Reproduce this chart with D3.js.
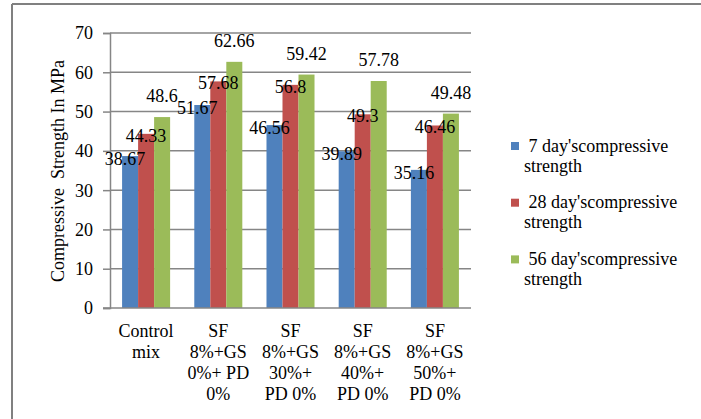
<!DOCTYPE html>
<html>
<head>
<meta charset="utf-8">
<script src="https://cdn.jsdelivr.net/npm/d3@7"></script>
<style>
  html, body { margin: 0; padding: 0; background: #fff; }
  svg { display: block; }
</style>
</head>
<body>
<svg id="chart" width="701" height="419"></svg>
<script>
// ---- data ----
const categories = ["Control mix", "SF 8%+GS 0%+ PD 0%", "SF 8%+GS 30%+ PD 0%", "SF 8%+GS 40%+ PD 0%", "SF 8%+GS 50%+ PD 0%"];
const categoryLines = [
  ["Control", "mix"],
  ["SF", "8%+GS", "0%+ PD", "0%"],
  ["SF", "8%+GS", "30%+", "PD 0%"],
  ["SF", "8%+GS", "40%+", "PD 0%"],
  ["SF", "8%+GS", "50%+", "PD 0%"]
];
const seriesNames = ["7 day'scompressive strength", "28 day'scompressive strength", "56 day'scompressive strength"];
const legendLines = [["7 day'scompressive", "strength"], ["28 day'scompressive", "strength"], ["56 day'scompressive", "strength"]];
const day7 = [38.67, 51.67, 46.56, 39.89, 35.16];
const day28 = [44.33, 57.68, 56.8, 49.3, 46.46];
const day56 = [48.6, 62.66, 59.42, 57.78, 49.48];
const yTicks = [0, 10, 20, 30, 40, 50, 60, 70];
const yTitle = "Compressive  Strength In MPa";

// ---- styles ----
const FONT = "Liberation Serif";
const colors = ["#4F81BD", "#C0504D", "#9BBB59"];
const labelDy = [9, 8, -15];   // label baseline offset from bar top, per series
const labelDx = [-5, 0, 0];
const gridColor = "#868686";

const seriesValues = [day7, day28, day56];
const svg = d3.select("#chart");

function styleText(sel) {
  return sel.style("font-family", FONT).style("font-size", "18px").attr("fill", "#000");
}

// outer frame (top and left edges)
svg.append("line").attr("x1", 12).attr("x2", 701).attr("y1", 4).attr("y2", 4)
  .attr("stroke", "#808080").attr("stroke-width", 2);
svg.append("line").attr("x1", 12).attr("x2", 12).attr("y1", 4).attr("y2", 419)
  .attr("stroke", "#808080").attr("stroke-width", 2);

const plot = { left: 110, right: 471, top: 33, bottom: 308 };

const x = d3.scaleBand().domain(categories).range([plot.left, plot.right]).padding(0);
const xSub = d3.scaleBand().domain(d3.range(seriesNames.length)).range([0, x.bandwidth()])
  .paddingInner(0).paddingOuter(0.755);
const y = d3.scaleLinear().domain([0, 70]).range([plot.bottom, plot.top]);

// gridlines
svg.append("g").selectAll("line").data(yTicks.filter(t => t > 0)).join("line")
  .attr("x1", plot.left).attr("x2", plot.right)
  .attr("y1", d => y(d)).attr("y2", d => y(d))
  .attr("stroke", gridColor).attr("stroke-width", 1.5);

// y axis
const yAxis = d3.axisLeft(y).tickValues(yTicks).tickSize(7).tickPadding(10).tickFormat(d3.format("d"));
const ya = svg.append("g").attr("transform", `translate(${plot.left},0)`).call(yAxis);
ya.attr("font-family", null).attr("font-size", null);
ya.select(".domain").attr("stroke", gridColor).attr("stroke-width", 1.5);
ya.selectAll(".tick line").attr("stroke", gridColor).attr("stroke-width", 1.5);
styleText(ya.selectAll(".tick text")).attr("dy", "0.33em");

// bars
const groups = svg.append("g").selectAll("g").data(categories).join("g")
  .attr("transform", d => `translate(${x(d)},0)`);
groups.selectAll("rect").data((d, i) => seriesValues.map((s, k) => ({ k, v: s[i] }))).join("rect")
  .attr("x", d => xSub(d.k))
  .attr("width", xSub.bandwidth())
  .attr("y", d => y(d.v))
  .attr("height", d => y(0) - y(d.v))
  .attr("fill", d => colors[d.k]);

// x baseline
svg.append("line").attr("x1", plot.left - 7).attr("x2", plot.right)
  .attr("y1", y(0)).attr("y2", y(0)).attr("stroke", gridColor).attr("stroke-width", 1.5);

// data labels
styleText(groups.selectAll("text.lbl").data((d, i) => seriesValues.map((s, k) => ({ k, v: s[i] }))).join("text")
  .attr("class", "lbl")
  .attr("x", d => xSub(d.k) + xSub.bandwidth() / 2 + labelDx[d.k])
  .attr("y", d => y(d.v) + labelDy[d.k])
  .attr("text-anchor", "middle"))
  .text(d => d.v);

// category labels
const cl = styleText(svg.append("g").selectAll("text").data(categories).join("text")
  .attr("x", d => x(d) + x.bandwidth() / 2)
  .attr("y", 337)
  .attr("text-anchor", "middle"));
cl.selectAll("tspan").data((d, i) => categoryLines[i]).join("tspan")
  .attr("x", function () { return d3.select(this.parentNode).attr("x"); })
  .attr("dy", (d, i) => i === 0 ? 0 : 21)
  .text(d => d);

// y title
styleText(svg.append("text")
  .attr("transform", `translate(63.5,171) rotate(-90)`)
  .attr("text-anchor", "middle")
  .style("white-space", "pre"))
  .text(yTitle);

// legend
const leg = svg.append("g").selectAll("g").data(seriesNames).join("g")
  .attr("transform", (d, i) => `translate(511,${142 + i * 56.7})`);
leg.append("rect").attr("width", 8).attr("height", 8).attr("fill", (d, i) => colors[i]);
leg.each(function (d, i) {
  const t = styleText(d3.select(this).append("text").style("white-space", "pre"));
  t.append("tspan").attr("x", 13).attr("y", 9.7).text(" " + legendLines[i][0]);
  t.append("tspan").attr("x", 13).attr("y", 29.5).text(legendLines[i][1]);
});
</script>
</body>
</html>
